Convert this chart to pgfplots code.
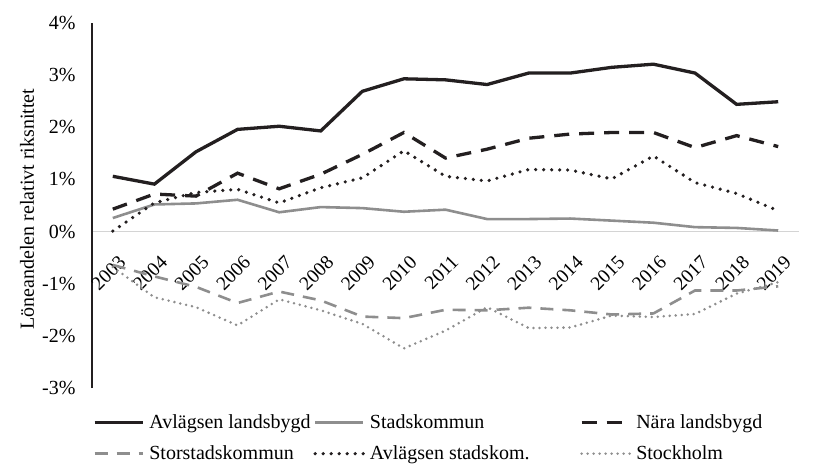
\documentclass[border=0pt]{standalone}
\usepackage{fontspec}
\setmainfont{Liberation Serif}
\usepackage{pgfplots}
\pgfplotsset{compat=1.18}
\definecolor{cblack}{HTML}{231F20}
\definecolor{cgray}{HTML}{8E8E8E}
\definecolor{czero}{HTML}{D4D4D4}

\begin{document}
\begin{tikzpicture}[font=\fontsize{20}{24}\selectfont]
\path[use as bounding box] (-92pt,-79pt) rectangle (730pt,388pt);
\begin{axis}[
  scale only axis, width=707pt, height=365pt,
  xmin=-0.5, xmax=16.5, ymin=-3, ymax=4,
  separate axis lines,
  axis x line=middle, axis y line=left,
  axis line style={-},
  x axis line style={czero, line width=1.5pt, -},
  y axis line style={cblack, line width=2.2pt, -},
  xtick={0,...,16},
  xticklabels={2003,2004,2005,2006,2007,2008,2009,2010,2011,2012,2013,2014,2015,2016,2017,2018,2019},
  ytick={-3,-2,-1,0,1,2,3,4},
  yticklabels={-3\%,-2\%,-1\%,0\%,1\%,2\%,3\%,4\%},
  major tick length=0pt,
  hide obscured x ticks=false, hide obscured y ticks=false,
  xticklabel style={xshift=12pt, yshift=-25pt, rotate=45, anchor=east, font=\fontsize{19.5}{23}\selectfont},
  yticklabel style={xshift=-13pt},
  ylabel={Löneandelen relativt riksnittet},
  ylabel style={at={(axis description cs:-0.092,0.49)}, anchor=center},
  legend columns=3,
  legend cell align=left,
  legend style={draw=none, fill=none, at={(axis description cs:-0.003,-0.137)}, anchor=west,
    nodes={inner xsep=0pt, inner ysep=2pt}, row sep=12pt,
    /tikz/every odd column/.append style={column sep=5pt}},
  legend image code/.code={\draw[#1] (0pt,0pt) -- (48pt,0pt);},
]
\addplot[cblack, line width=3.3pt] coordinates {
(0,1.06) (1,0.91) (2,1.53) (3,1.96) (4,2.02) (5,1.93) (6,2.69) (7,2.93) (8,2.91) (9,2.82) (10,3.04) (11,3.04) (12,3.15) (13,3.21) (14,3.04) (15,2.44) (16,2.49)};
\addlegendentry{\makebox[164pt][l]{Avlägsen landsbygd}}
\addplot[cgray, line width=2.6pt] coordinates {
(0,0.26) (1,0.52) (2,0.54) (3,0.61) (4,0.37) (5,0.47) (6,0.45) (7,0.38) (8,0.42) (9,0.24) (10,0.24) (11,0.25) (12,0.21) (13,0.17) (14,0.085) (15,0.07) (16,0.02)};
\addlegendentry{\makebox[210pt][l]{Stadskommun}}
\addplot[cblack, line width=3.3pt, dash pattern=on 15pt off 10pt] coordinates {
(0,0.43) (1,0.72) (2,0.68) (3,1.12) (4,0.82) (5,1.10) (6,1.48) (7,1.90) (8,1.41) (9,1.58) (10,1.79) (11,1.87) (12,1.90) (13,1.90) (14,1.61) (15,1.84) (16,1.63)};
\addlegendentry{Nära landsbygd}
\addplot[cgray, line width=2.6pt, dash pattern=on 13pt off 9pt] coordinates {
(0,-0.64) (1,-0.86) (2,-1.06) (3,-1.37) (4,-1.15) (5,-1.32) (6,-1.63) (7,-1.66) (8,-1.50) (9,-1.51) (10,-1.46) (11,-1.51) (12,-1.59) (13,-1.57) (14,-1.13) (15,-1.13) (16,-1.05)};
\addlegendentry{\makebox[164pt][l]{Storstadskommun}}
\addplot[cblack, line width=3.6pt, line cap=round, dash pattern=on 0pt off 8pt] coordinates {
(0,0.01) (1,0.55) (2,0.75) (3,0.81) (4,0.55) (5,0.84) (6,1.03) (7,1.55) (8,1.06) (9,0.97) (10,1.19) (11,1.18) (12,1.01) (13,1.45) (14,0.94) (15,0.73) (16,0.40)};
\addlegendentry{\makebox[210pt][l]{Avlägsen stadskom.}}
\addplot[cgray, line width=2.8pt, line cap=round, dash pattern=on 0pt off 6pt] coordinates {
(0,-0.68) (1,-1.26) (2,-1.45) (3,-1.80) (4,-1.30) (5,-1.51) (6,-1.77) (7,-2.24) (8,-1.90) (9,-1.45) (10,-1.85) (11,-1.84) (12,-1.61) (13,-1.64) (14,-1.58) (15,-1.19) (16,-0.97)};
\addlegendentry{Stockholm}
\end{axis}
\end{tikzpicture}
\end{document}
